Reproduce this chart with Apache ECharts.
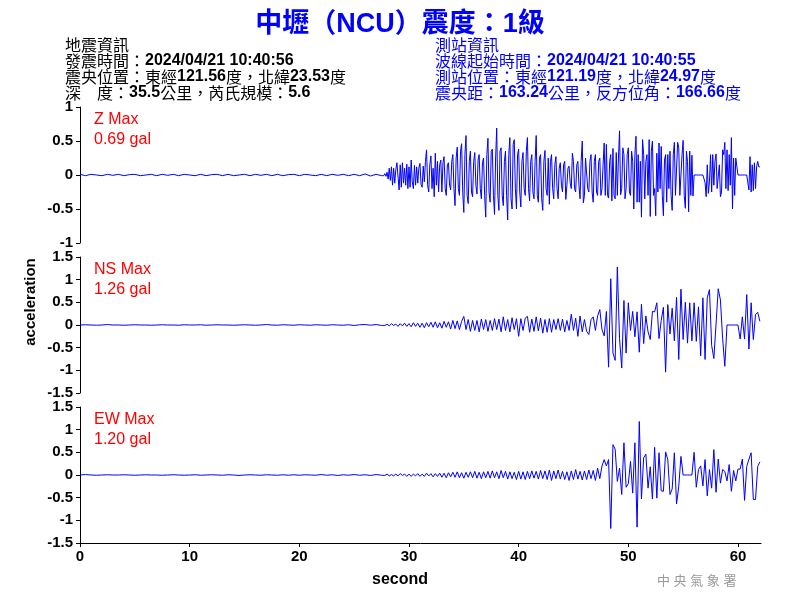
<!DOCTYPE html>
<html>
<head>
<meta charset="utf-8">
<script src="https://cdn.jsdelivr.net/npm/echarts@6/dist/echarts.min.js"></script>
<style>html,body{margin:0;padding:0;background:#fff}#c{width:800px;height:600px}</style>
</head>
<body>
<div id="c"></div>
<script>
// ---- data ----
const titleText = '中壢（NCU）震度：1級';
const quakeInfo = ['地震資訊', '發震時間：2024/04/21 10:40:56', '震央位置：東經121.56度，北緯23.53度', '深\u3000度：35.5公里，芮氏規模：5.6'];
const stationInfo = ['測站資訊', '波線起始時間：2024/04/21 10:40:55', '測站位置：東經121.19度，北緯24.97度', '震央距：163.24公里，反方位角：166.66度'];
const componentNames = ['Z Max', 'NS Max', 'EW Max'];
const componentPeaks = ['0.69 gal', '1.26 gal', '1.20 gal'];
const xTicks = [0, 10, 20, 30, 40, 50, 60];
const zTicks = [-1, -0.5, 0, 0.5, 1];
const hTicks = [-1.5, -1, -0.5, 0, 0.5, 1, 1.5];
const xMax = 62.1;

// quiet part: samples every 0.5 s from 0 s
const quietDt = 0.5;
const zQuiet = [
  0.01,-0.01,0.01,0,-0.01,0.01,-0.005,0.01,
  -0.01,0.005,0.01,-0.01,0,0.01,-0.01,0.01,
  -0.005,0.01,-0.01,0.01,0,-0.01,0.01,-0.01,
  0.005,0.01,-0.01,0.01,-0.01,0,0.01,-0.01,
  0.01,-0.005,0.01,-0.01,0.01,-0.01,0.005,0.01,
  -0.01,0.01,0,-0.01,0.01,-0.01,0.01,-0.005,
  0.01,-0.01,0.01,-0.01,0.015,-0.015,0.01,-0.01
];
const nsQuiet = [
  0,0.005,0,-0.005,0,0.01,0,0,
  -0.005,0,0.005,0,0,-0.005,0,0.005,
  0,0,-0.005,0.005,0,0,0.005,-0.005,
  0,0.005,0,0,-0.005,0,0.005,0,
  -0.005,0,0.01,0,-0.005,0.005,0,-0.005,
  0.005,0,-0.005,0.005,0,-0.005,0.005,0,
  -0.005,0.005,-0.01,0.005,0.01,-0.005,0.01,-0.01
];
const ewQuiet = [
  0,0.01,0,-0.005,0,0.005,0,0,
  0.005,0,-0.005,0,0.005,0,0,-0.005,
  0,0.005,0,-0.005,0,0.005,-0.005,0,
  0.005,0,-0.005,0.005,0,-0.01,0,0.005,
  0,-0.005,0.005,0,-0.005,0.005,-0.005,0.005,
  -0.005,0.005,0,-0.005,0.01,-0.005,0.005,-0.01,
  0.005,-0.005,0.01,-0.005,0.005,-0.01,0.01,-0.005
];

// active part starts at 27.6 s
const activeStart = 27.6;
// Z: samples every 0.1 s
const zDt = 0.1;
const zActive = [
  0.01,-0.01,0.02,-0.02,
  0.04,-0.06,0.1,-0.08,0.12,-0.15,0.1,-0.12,0.08,0.18,
  0.2,-0.22,0.15,-0.18,0.18,-0.12,0.1,-0.15,0.16,-0.2,
  0.12,-0.18,0.22,-0.1,-0.2,0.14,-0.15,0.12,-0.12,0.1,
  0.17,-0.14,-0.18,0.13,-0.1,0.2,0.37,-0.15,-0.25,0.15,
  0.28,-0.2,0.1,-0.32,0.32,-0.15,0.2,-0.25,0.15,0.22,
  -0.25,0.18,0.27,-0.2,-0.3,0.15,0.18,-0.15,-0.22,0.2,
  0.3,-0.2,-0.45,0.25,0.41,-0.2,-0.3,0.35,0.46,-0.25,
  -0.55,0.3,0.58,-0.3,-0.42,0.2,0.35,-0.25,-0.32,0.2,
  0.33,-0.15,-0.28,0.22,0.3,-0.2,-0.35,0.18,0.25,-0.3,
  -0.62,0.3,0.54,-0.25,-0.4,0.35,0.38,-0.3,-0.58,0.25,
  0.69,-0.3,-0.52,0.35,0.4,-0.3,-0.45,0.2,0.35,-0.3,
  -0.66,0.3,0.55,-0.35,-0.5,0.45,0.52,-0.2,-0.5,0.3,
  0.38,-0.25,-0.47,0.2,0.33,-0.2,-0.3,0.35,0.55,-0.2,
  -0.38,0.2,0.3,-0.25,-0.35,0.2,0.58,-0.3,-0.4,0.25,
  0.3,-0.35,-0.52,0.2,0.36,-0.2,-0.3,0.25,-0.43,0.2,
  0.3,-0.2,-0.35,0.15,0.27,-0.2,-0.35,0.1,0.18,-0.15,
  -0.25,0.15,0.2,-0.36,-0.15,0.1,0.13,-0.12,-0.2,0.32,
  0.2,-0.2,-0.25,0.15,0.2,-0.15,-0.35,0.2,0.5,-0.41,
  -0.3,0.25,0.25,-0.2,-0.25,0.2,0.3,-0.25,-0.4,0.2,
  0.3,-0.25,-0.3,0.2,0.25,-0.3,-0.2,0.15,0.47,-0.3,
  0.45,-0.3,-0.34,0.2,0.3,-0.38,0.39,-0.3,-0.35,0.33,
  -0.3,0.25,0.65,-0.29,-0.2,0.4,0.3,-0.35,-0.2,0.3,
  0.4,-0.25,-0.3,0.35,0.2,-0.5,0.3,0.57,-0.4,0.3,
  -0.4,0.2,-0.62,0.52,0.3,-0.35,0.2,0.3,-0.3,0.52,
  -0.61,0.35,0.5,-0.3,-0.2,-0.6,0.32,-0.25,0.47,-0.2,
  0.42,-0.3,-0.6,0.22,0.3,-0.4,0.3,-0.2,0.35,-0.3,
  -0.52,0.3,0.48,-0.3,-0.3,0.48,0.4,-0.3,-0.3,0.3,
  0.51,-0.3,-0.49,0.35,0.2,-0.54,0.35,-0.3,0.29,-0.31,
  0,0,0,0,0,0,0,0,0,0,
  -0.11,-0.32,0.15,-0.27,-0.1,0.3,-0.25,0.3,-0.15,0.2,
  0.31,-0.2,-0.18,0.15,-0.32,-0.25,0.37,0.3,0.48,-0.2,
  0.37,-0.23,0.3,-0.15,0.55,-0.5,0.25,-0.3,0.25,0.25,
  0,0,0,0,0,0,0,0,0,0,
  -0.22,0.27,-0.25,0.15,-0.23,0.18,-0.2,0.12,0.2,0.12,
  0.12
];
// NS and EW: samples every 0.2 s
const hDt = 0.2;
const nsActive = [
  0.01,-0.01,
  0.02,-0.02,0.03,-0.01,0.02,
  -0.03,0.03,-0.02,0.04,-0.03,
  0.03,-0.04,0.05,-0.03,0.04,
  -0.05,0.04,-0.06,0.05,-0.04,
  0.06,-0.05,0.07,-0.06,0.05,
  -0.07,0.08,-0.05,0.07,-0.09,
  0.1,-0.08,0.09,-0.1,0.08,
  0.19,-0.1,0.12,-0.14,0.1,
  -0.12,0.1,-0.15,0.13,-0.1,
  0.12,-0.14,0.1,-0.12,0.14,
  -0.1,0.13,-0.15,0.18,-0.12,
  0.12,-0.15,0.16,-0.1,0.14,
  -0.25,0.14,-0.12,0.15,0.19,
  -0.16,0.13,-0.14,0.18,-0.13,
  0.15,-0.18,0.12,-0.16,0.14,
  -0.16,0.12,-0.1,0.14,-0.12,
  0.13,-0.15,0.1,-0.12,0.24,
  -0.12,0.15,-0.25,0.2,-0.15,
  0.12,-0.14,-0.21,0.12,0.18,
  -0.12,0.2,0.34,-0.1,-0.24,
  0.3,-0.93,1.02,-0.62,-0.78,
  1.28,-0.3,-0.95,0.54,-0.62,
  0.49,-0.12,0.3,-0.26,0.29,
  -0.6,0.46,-0.41,0.2,-0.15,
  -0.32,0.3,0.29,0.49,-0.3,
  0.1,0.39,-1.04,0.45,-0.2,
  0.37,-0.35,0.61,-0.76,0.79,
  -0.32,0.5,-0.4,0.49,-0.35,
  0.49,-0.36,0.4,-0.68,0.6,
  -0.76,0.6,0.78,-0.45,-0.74,
  0.02,0.8,0.55,-0.29,-0.91,
  0,0,0,0,0,
  0,-0.31,0.18,-0.31,0.67,
  -0.53,0.49,-0.32,0.23,0.28,
  0.08
];
const ewActive = [
  0.01,-0.01,
  0.02,-0.02,0.01,-0.02,0.02,
  -0.02,0.03,-0.01,0.02,-0.03,
  0.02,-0.03,0.02,-0.02,0.03,
  -0.03,0.02,-0.03,0.04,-0.02,
  0.03,-0.04,0.03,-0.03,0.04,
  -0.05,0.04,-0.06,0.05,-0.04,
  0.06,-0.05,0.07,-0.06,0.05,
  -0.07,0.06,-0.05,0.07,-0.06,
  0.08,-0.07,0.06,-0.08,0.07,
  -0.06,0.08,-0.07,0.09,-0.06,
  0.07,-0.08,0.1,-0.06,0.08,
  -0.09,0.07,-0.08,0.06,-0.1,
  0.08,-0.09,0.07,-0.1,0.08,
  -0.08,0.09,-0.07,0.08,-0.09,
  0.1,-0.08,0.09,-0.1,0.11,
  -0.12,0.09,-0.08,0.11,-0.09,
  0.08,-0.1,0.07,-0.12,0.09,
  -0.1,0.12,-0.09,0.08,-0.11,
  0.09,-0.1,0.11,-0.08,0.1,
  -0.12,0.15,-0.08,0.2,0.34,
  0.2,0.34,-1.18,0.67,0.57,
  -0.14,0.15,-0.43,0.71,-0.27,
  -0.19,0.3,-0.4,0.71,-1.15,
  1.18,-0.53,0.38,0.46,-0.29,
  0.18,-0.53,0.61,-0.51,0.49,
  -0.35,-0.36,0.51,0.34,-0.43,
  -0.31,0.49,-0.64,-0.25,0.41,
  0,0,0,0,0,
  0.5,-0.27,0.12,0.2,-0.24,
  0.34,-0.46,0.12,-0.29,0.56,
  -0.38,0.35,-0.18,0.12,0.08,
  -0.13,0.23,-0.36,0.1,-0.13,
  0.13,0.13,0.35,-0.56,0.19,
  0.35,0.49,-0.54,-0.54,0.19,
  0.29
];

// ---- build ----
function build(quiet, active, dt) {
  const d = [];
  quiet.forEach((v, i) => d.push([+(i * quietDt).toFixed(2), v]));
  active.forEach((v, i) => d.push([+(activeStart + i * dt).toFixed(2), v]));
  return d;
}
const seriesData = [build(zQuiet, zActive, zDt), build(nsQuiet, nsActive, hDt), build(ewQuiet, ewActive, hDt)];
const yTickSets = [zTicks, hTicks, hTicks];

const FONT = 'Arial, "Liberation Sans", "Noto Sans CJK TC", sans-serif';
const CJK = '"Noto Sans CJK TC", sans-serif';

// rich text: ASCII runs bold Arial, CJK runs regular CJK font
function richLines(lines) {
  return lines.map(l => l.split(/([\x00-\x7F]+)/).filter(s => s.length)
    .map(s => /^[\x00-\x7F]+$/.test(s) ? '{a|' + s + '}' : '{c|' + s + '}').join('')).join('\n');
}
function richStyles(color) {
  return {
    a: { fill: color, fontFamily: FONT, fontWeight: 'bold', fontSize: 16, lineHeight: 16 },
    c: { fill: color, fontFamily: CJK, fontWeight: 'normal', fontSize: 16, lineHeight: 16 }
  };
}

const gridTops = [107, 257, 407];
const grids = gridTops.map(t => ({ left: 80, width: 681, top: t, height: 136, outerBoundsMode: 'none', containLabel: false }));

const xAxes = gridTops.map((t, i) => ({
  type: 'value', gridIndex: i, min: 0, max: xMax,
  show: i === 2,
  axisLine: { show: true, onZero: false, lineStyle: { color: '#000', width: 1 } },
  axisTick: { show: true, inside: false, length: 4, lineStyle: { color: '#000' }, customValues: xTicks },
  axisLabel: { show: true, color: '#000', fontFamily: FONT, fontWeight: 'bold', fontSize: 15, margin: 6, customValues: xTicks },
  splitLine: { show: false }
}));
const yAxes = gridTops.map((t, i) => ({
  type: 'value', gridIndex: i,
  min: yTickSets[i][0], max: yTickSets[i][yTickSets[i].length - 1], interval: 0.5,
  axisLine: { show: true, onZero: false, lineStyle: { color: '#000', width: 1 } },
  axisTick: { show: true, inside: false, length: 4, lineStyle: { color: '#000' } },
  axisLabel: { show: true, color: '#000', fontFamily: FONT, fontWeight: 'bold', fontSize: 15, margin: 7 },
  splitLine: { show: false }
}));

const series = seriesData.map((d, i) => ({
  type: 'line', xAxisIndex: i, yAxisIndex: i, data: d,
  showSymbol: false, symbol: 'none', sampling: null, animation: false,
  lineStyle: { color: '#0000ff', width: 1 }, silent: true
}));

const graphics = [
  { type: 'text', left: 'center', top: 11, style: { text: titleText, fill: '#0000ff', font: 'bold 27px ' + FONT } },
  { type: 'text', x: 65, y: 37, style: { text: richLines(quakeInfo), rich: richStyles('#000') } },
  { type: 'text', x: 435, y: 37, style: { text: richLines(stationInfo), rich: richStyles('#0000ff') } },
  { type: 'text', x: 400, y: 580, style: { text: 'second', fill: '#000', font: 'bold 16px ' + FONT, align: 'center', verticalAlign: 'middle' } },
  { type: 'text', x: 31, y: 302, rotation: Math.PI / 2, style: { text: 'acceleration', fill: '#000', font: 'bold 15px ' + FONT, align: 'center', verticalAlign: 'middle' } },
  { type: 'text', x: 657, y: 581, style: { text: '中 央 氣 象 署', fill: '#9a9a9a', font: '13px ' + FONT, verticalAlign: 'middle' } }
];
gridTops.forEach((t, i) => {
  graphics.push({ type: 'text', x: 94, y: t + 3, style: { text: componentNames[i] + '\n' + componentPeaks[i], fill: '#ff0000', font: '16px ' + FONT, lineHeight: 20 } });
});

const chart = echarts.init(document.getElementById('c'), null, { renderer: 'canvas' });
chart.setOption({
  backgroundColor: '#fff',
  animation: false,
  grid: grids,
  xAxis: xAxes,
  yAxis: yAxes,
  series: series,
  graphic: graphics
});
</script>
</body>
</html>
